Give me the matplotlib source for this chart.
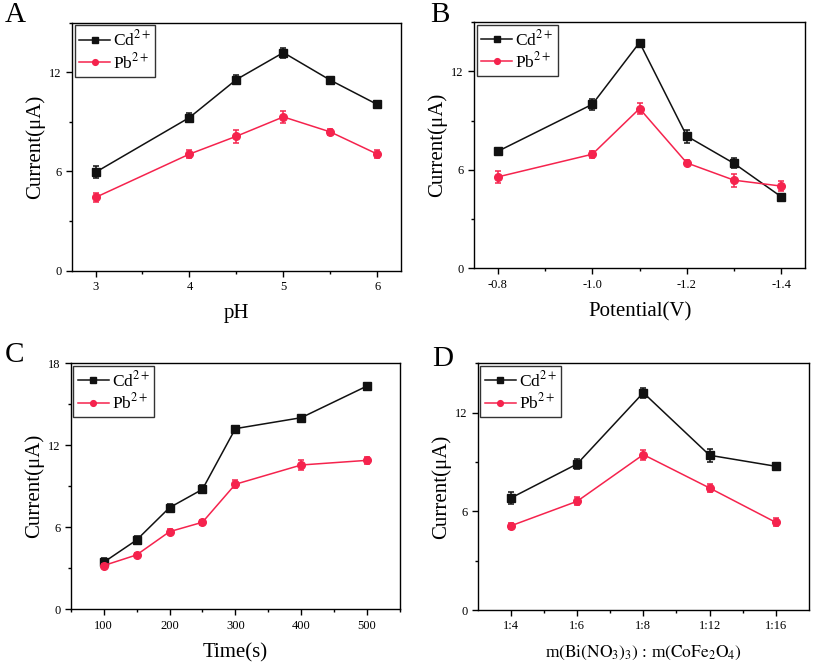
import matplotlib
matplotlib.use('Agg')
from matplotlib import pyplot as plt
from matplotlib import ticker

plt.rcParams['font.family'] = ['Liberation Serif', 'DejaVu Serif']
plt.rcParams['mathtext.fontset'] = 'stix'

CD_COLOR = '#111111'
PB_COLOR = '#f5234d'

# A: pH
ph_values = [3, 4, 4.5, 5, 5.5, 6]
ph_cd = [5.95, 9.26, 11.56, 13.19, 11.52, 10.05]
ph_cd_err = [0.35, 0.25, 0.3, 0.3, 0.15, 0.2]
ph_pb = [4.43, 7.05, 8.13, 9.30, 8.39, 7.05]
ph_pb_err = [0.25, 0.25, 0.4, 0.35, 0.2, 0.25]

# B: potential
potential_values = [-0.8, -1.0, -1.1, -1.2, -1.3, -1.4]
potential_cd = [7.13, 9.99, 13.75, 8.05, 6.39, 4.36]
potential_cd_err = [0.2, 0.35, 0.15, 0.4, 0.3, 0.1]
potential_pb = [5.57, 6.95, 9.73, 6.42, 5.37, 5.01]
potential_pb_err = [0.35, 0.2, 0.35, 0.15, 0.4, 0.3]

# C: deposition time
time_values = [100, 150, 200, 250, 300, 400, 500]
time_cd = [3.44, 5.07, 7.44, 8.78, 13.22, 14.02, 16.34]
time_cd_err = [0.3, 0.3, 0.25, 0.3, 0.2, 0.1, 0.25]
time_pb = [3.20, 3.98, 5.68, 6.37, 9.15, 10.56, 10.90]
time_pb_err = [0.15, 0.15, 0.2, 0.2, 0.3, 0.35, 0.25]

# D: mass ratio
ratio_labels = ['1:4', '1:6', '1:8', '1:12', '1:16']
ratio_cd = [6.81, 8.88, 13.21, 9.41, 8.74]
ratio_cd_err = [0.35, 0.3, 0.3, 0.4, 0.2]
ratio_pb = [5.12, 6.61, 9.45, 7.42, 5.33]
ratio_pb_err = [0.2, 0.25, 0.3, 0.25, 0.25]


def draw_panel(axes, x, cd, cd_err, pb, pb_err, letter, letter_x, letter_y,
               xlabel, ymax, xlabel_size=15):
    for values, errors, color, marker, label in ((cd, cd_err, CD_COLOR, 's', 'Cd$^{2+}$'),
                                                 (pb, pb_err, PB_COLOR, 'o', 'Pb$^{2+}$')):
        axes.errorbar(x, values, yerr=errors, fmt='none', ecolor=color,
                      elinewidth=1.1, capsize=2.5, capthick=1.1)
        axes.plot(x, values, color=color, marker=marker, markersize=5.5,
                  linewidth=1.1, label=label)
    axes.set_ylim(0, ymax)
    axes.yaxis.set_major_locator(ticker.MultipleLocator(6))
    axes.yaxis.set_minor_locator(ticker.MultipleLocator(3))
    axes.tick_params(which='both', direction='out', top=False, right=False,
                     labelsize=9, width=1)
    axes.tick_params(which='major', length=4)
    axes.tick_params(which='minor', length=2.5)
    for spine in axes.spines.values():
        spine.set_linewidth(1)
    axes.set_ylabel('Current(μA)', fontsize=15, labelpad=3)
    axes.set_xlabel(xlabel, fontsize=xlabel_size, labelpad=8)
    legend = axes.legend(loc='upper left', fontsize=12.5, frameon=True, fancybox=False,
                         edgecolor='black', borderpad=0.25, labelspacing=0.15,
                         handlelength=1.8, handletextpad=0.15, borderaxespad=0.15,
                         markerscale=0.75)
    legend.get_frame().set_linewidth(1)
    axes.text(letter_x, letter_y, letter, transform=axes.transAxes, fontsize=21,
              ha='left', va='center')


figure = plt.figure(figsize=(8.13, 6.66), dpi=100)

axes_a = figure.add_axes([0.0886, 0.5936, 0.4044, 0.3724])
draw_panel(axes_a, ph_values, ph_cd, ph_cd_err, ph_pb, ph_pb_err,
           'A', -0.204, 1.03, 'pH', 15)
axes_a.set_xlim(2.75, 6.25)
axes_a.xaxis.set_major_locator(ticker.FixedLocator([3, 4, 5, 6]))
axes_a.xaxis.set_minor_locator(ticker.FixedLocator([3.5, 4.5, 5.5]))

axes_b = figure.add_axes([0.5834, 0.597, 0.4066, 0.370])
draw_panel(axes_b, potential_values, potential_cd, potential_cd_err,
           potential_pb, potential_pb_err, 'B', -0.133, 1.03, 'Potential(V)', 15)
axes_b.set_xlim(-0.75, -1.45)
axes_b.xaxis.set_major_locator(ticker.FixedLocator([-0.8, -1.0, -1.2, -1.4]))
axes_b.xaxis.set_minor_locator(ticker.FixedLocator([-0.9, -1.1, -1.3]))
axes_b.xaxis.set_major_formatter(ticker.FormatStrFormatter('%.1f'))

axes_c = figure.add_axes([0.087, 0.0851, 0.405, 0.3694])
draw_panel(axes_c, time_values, time_cd, time_cd_err, time_pb, time_pb_err,
           'C', -0.2, 1.033, 'Time(s)', 18)
axes_c.set_xlim(50, 550)
axes_c.xaxis.set_major_locator(ticker.MultipleLocator(100))
axes_c.xaxis.set_minor_locator(ticker.MultipleLocator(50))

axes_d = figure.add_axes([0.5876, 0.084, 0.4074, 0.3705])
ratio_positions = list(range(len(ratio_labels)))
draw_panel(axes_d, ratio_positions, ratio_cd, ratio_cd_err, ratio_pb, ratio_pb_err,
           'D', -0.138, 1.016,
           r'm$\left(\mathrm{Bi}\left(\mathrm{NO_3}\right)_3\right)$ : m$\left(\mathrm{CoFe_2O_4}\right)$',
           15, xlabel_size=12.5)
axes_d.set_xlim(-0.5, 4.5)
axes_d.set_xticks(ratio_positions)
axes_d.set_xticklabels(ratio_labels)
axes_d.xaxis.set_minor_locator(ticker.FixedLocator([0.5, 1.5, 2.5, 3.5]))

figure.savefig('out.png', dpi=100)
plt.close()
